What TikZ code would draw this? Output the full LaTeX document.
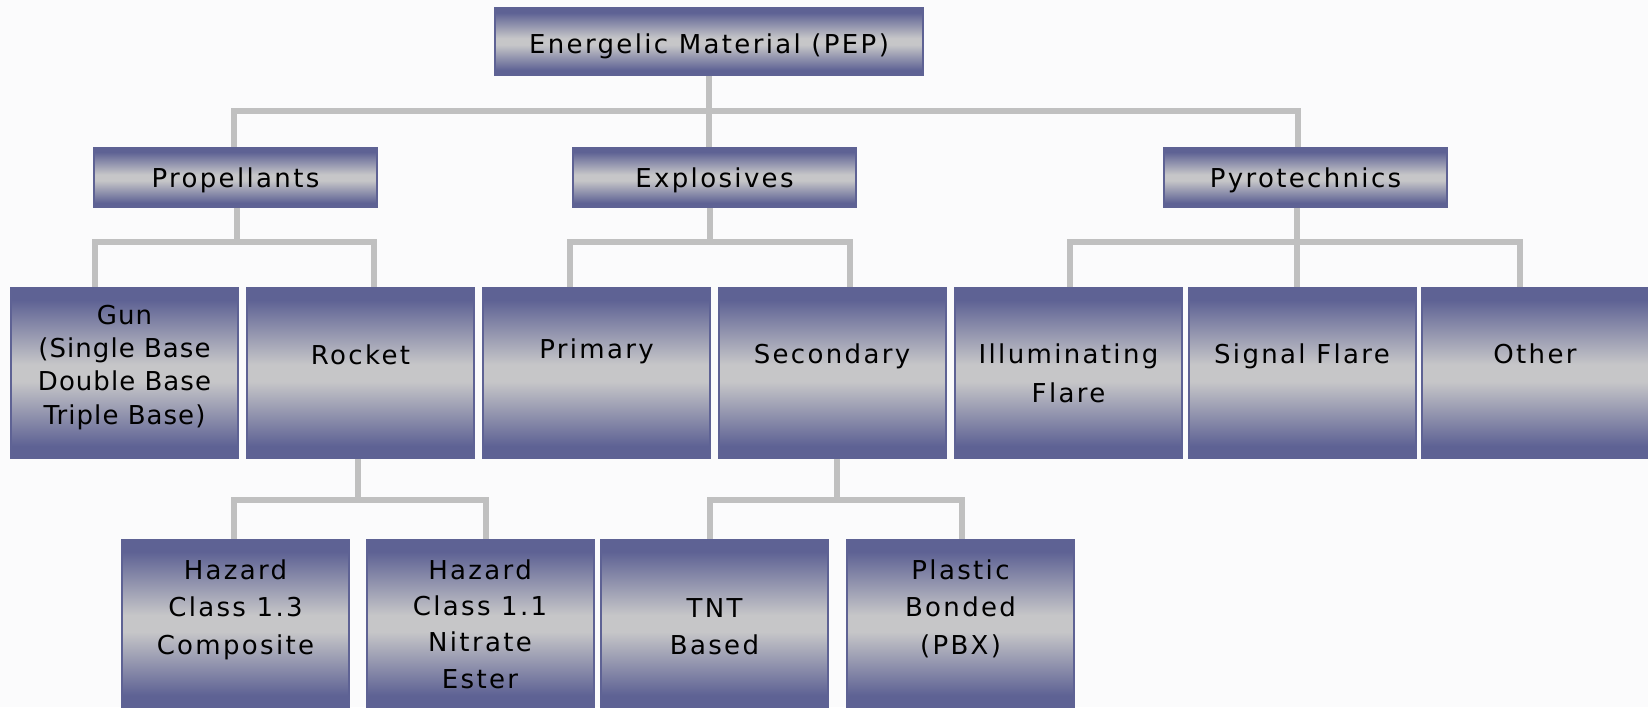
\documentclass[tikz,border=0pt]{standalone}
\usepackage{fontspec}
\newfontfamily\pixfont[LetterSpace=9]{DejaVu Sans}
\newfontfamily\pixfontn[LetterSpace=4]{DejaVu Sans}
\definecolor{bgc}{RGB}{251,251,252}
\definecolor{boxblue}{RGB}{94,98,148}
\definecolor{boxgray}{RGB}{198,198,200}
\definecolor{linec}{RGB}{192,192,192}
\pgfdeclareverticalshading{boxshade}{100bp}{color(0bp)=(boxblue); color(25bp)=(boxblue); color(28.5bp)=(boxblue); color(47.5bp)=(boxgray); color(52.5bp)=(boxgray); color(71.5bp)=(boxblue); color(100bp)=(boxblue)}
\pgfdeclarelayer{bg}
\pgfsetlayers{bg,main}
\tikzset{
  box/.style={shading=boxshade, draw=boxblue, line width=2pt, inner sep=0pt, outer sep=0pt},
  topbox/.style={box, minimum width=428pt, minimum height=67pt},
  midbox/.style={box, minimum width=283pt, minimum height=59pt},
  leafbox/.style={box, minimum width=227pt, minimum height=170pt},
  lowbox/.style={box, minimum width=227pt, minimum height=167pt},
  txt/.style={font=\pixfont\fontsize{26}{#1}\selectfont, align=center, anchor=base, inner sep=0pt, text=black},
  txt/.default=33,
  txtn/.style={txt, font=\pixfontn\fontsize{26}{#1}\selectfont},
  conn/.style={draw=linec, line width=6pt}
}
\begin{document}
\begin{tikzpicture}[x=1pt,y=-1pt]
\useasboundingbox (0,0) rectangle (1648,707);
% boxes
\node[topbox] (top) at (709,41.5) {};
\node[midbox] (prop) at (235.5,177.5) {};
\node[midbox] (expl) at (714.5,177.5) {};
\node[midbox] (pyro) at (1305.5,177.5) {};
\node[leafbox] (gun) at (124.5,373) {};
\node[leafbox] (rocket) at (360.5,373) {};
\node[leafbox] (primary) at (596.5,373) {};
\node[leafbox] (secondary) at (832,373) {};
\node[leafbox] (illum) at (1068.5,373) {};
\node[leafbox] (signal) at (1302,373) {};
\node[leafbox] (other) at (1535,373) {};
\node[lowbox] (haz13) at (235.5,623.5) {};
\node[lowbox] (haz11) at (480,623.5) {};
\node[lowbox] (tnt) at (714.5,623.5) {};
\node[lowbox] (pbx) at (960.5,623.5) {};
% texts (anchor = baseline of the last line)
\node[txt] (top-t) at (709,53) {Energelic Material (PEP)};
\node[txt] (prop-t) at (235.5,187) {Propellants};
\node[txt] (expl-t) at (714.5,187) {Explosives};
\node[txt] (pyro-t) at (1305.5,187) {Pyrotechnics};
\node[txtn=33.3] (gun-t) at (124.5,424) {Gun\\(Single Base\\Double Base\\Triple Base)};
\node[txt] (rocket-t) at (360.5,364) {Rocket};
\node[txt] (primary-t) at (596.5,358) {Primary};
\node[txt] (secondary-t) at (832,363) {Secondary};
\node[txt=39] (illum-t) at (1068.5,402) {Illuminating\\Flare};
\node[txt] (signal-t) at (1302,363) {Signal Flare};
\node[txt] (other-t) at (1535,363) {Other};
\node[txt=37.5] (haz13-t) at (235.5,654) {Hazard\\Class 1.3\\Composite};
\node[txt=36.3] (haz11-t) at (480,688) {Hazard\\Class 1.1\\Nitrate\\Ester};
\node[txt=37] (tnt-t) at (714.5,654) {TNT\\Based};
\node[txt=37.5] (pbx-t) at (960.5,654) {Plastic\\Bonded\\(PBX)};
% connectors
\coordinate (bus1) at (0,111);
\coordinate (bus2) at (0,242);
\coordinate (bus3) at (0,500);
\begin{pgfonlayer}{bg}
\fill[bgc] (0,0) rectangle (1648,707);
\draw[conn] (top.south) -- (top.south |- expl.north);
\draw[conn] ([xshift=-2pt]prop.north) |- ([xshift=-7.5pt]pyro.north |- bus1) -- ([xshift=-7.5pt]pyro.north);
% propellants
\draw[conn] ([xshift=1.5pt]prop.south) -- ([xshift=1.5pt]prop.south |- bus2);
\draw[conn] ([xshift=-29.5pt]gun.north) |- ([xshift=13.5pt]rocket.north |- bus2) -- ([xshift=13.5pt]rocket.north);
% explosives
\draw[conn] ([xshift=-4.5pt]expl.south) -- ([xshift=-4.5pt]expl.south |- bus2);
\draw[conn] ([xshift=-26.5pt]primary.north) |- ([xshift=18pt]secondary.north |- bus2) -- ([xshift=18pt]secondary.north);
% pyrotechnics
\draw[conn] ([xshift=-8.5pt]pyro.south) -- ([xshift=-5pt]signal.north);
\draw[conn] ([xshift=1.5pt]illum.north) |- ([xshift=-15pt]other.north |- bus2) -- ([xshift=-15pt]other.north);
% rocket
\draw[conn] ([xshift=-2.5pt]rocket.south) -- ([xshift=-2.5pt]rocket.south |- bus3);
\draw[conn] ([xshift=-1.5pt]haz13.north) |- ([xshift=6pt]haz11.north |- bus3) -- ([xshift=6pt]haz11.north);
% secondary
\draw[conn] ([xshift=5pt]secondary.south) -- ([xshift=5pt]secondary.south |- bus3);
\draw[conn] ([xshift=-4.5pt]tnt.north) |- ([xshift=1.5pt]pbx.north |- bus3) -- ([xshift=1.5pt]pbx.north);
\end{pgfonlayer}
\end{tikzpicture}
\end{document}
